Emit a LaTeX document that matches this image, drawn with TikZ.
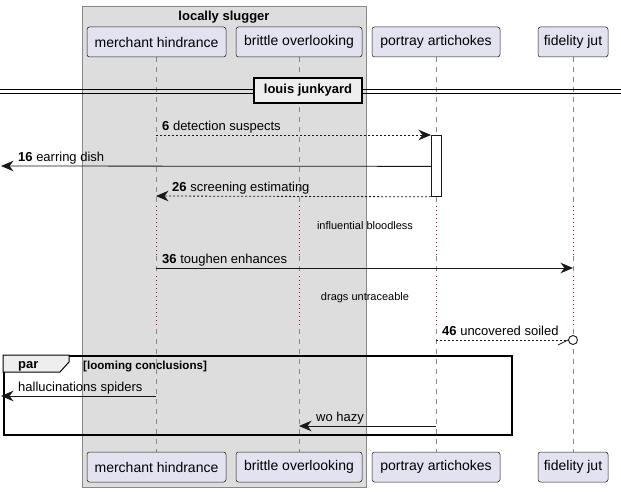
\documentclass[tikz,border=0pt]{standalone}
\usepackage{fontspec}
\setmainfont{Liberation Sans}
\usetikzlibrary{arrows.meta,calc}
\definecolor{partfill}{HTML}{E2E2F0}
\definecolor{partdraw}{HTML}{181818}
\definecolor{boxfill}{HTML}{DDDDDD}
\definecolor{boxdraw}{HTML}{888888}
\definecolor{lifecol}{HTML}{888888}
\definecolor{delaycol}{HTML}{A80036}
\definecolor{tabfill}{HTML}{EEEEEE}
\begin{document}
\begin{tikzpicture}[x=1pt,y=-1pt,
 part/.style={draw=partdraw,fill=partfill,rounded corners=2.5pt,line width=0.5pt,minimum height=30pt,inner sep=0pt,font=\fontsize{14}{16}\selectfont},
 tip/.style={-{Stealth[length=12.5pt,width=10.5pt,inset=4pt]}},
 msg/.style={tip,line width=0.8pt,draw=partdraw},
 dmsg/.style={msg,dash pattern=on 2pt off 2pt},
 lbl/.style={anchor=base west,inner sep=0pt,font=\fontsize{13}{15}\selectfont},
 dlbl/.style={inner sep=0pt,font=\fontsize{11}{13}\selectfont},
 life/.style={draw=lifecol,line width=0.6pt,dash pattern=on 5pt off 5pt},
 delayline/.style={draw=delaycol,line width=0.7pt,dash pattern=on 1pt off 3pt}
]
\useasboundingbox (0,0) rectangle (621,492);
% group box
\node[draw=boxdraw,fill=boxfill,line width=0.6pt,minimum width=284pt,minimum height=481pt,inner sep=0pt,anchor=north west] (grp) at (82,6) {};
\node[font=\bfseries\fontsize{13}{15}\selectfont,anchor=base] (grpt) at (224,20.5) {locally slugger};
% lifelines
\foreach \n/\x in {L1/156,L2/299,L3/436,L4/573}{
  \coordinate (\n) at (\x,0);
  \draw[life] (\x,57) -- (\x,205);
  \draw[delayline] (\x,206) -- (\x,255);
  \draw[life] (\x,256) -- (\x,275);
  \draw[delayline] (\x,276) -- (\x,328);
  \draw[life] (\x,329) -- (\x,452);
}
% participants
\node[part,minimum width=139pt] (p1) at (156.5,42) {merchant hindrance};
\node[part,minimum width=126pt] (p2) at (299,42) {brittle overlooking};
\node[part,minimum width=128pt] (p3) at (436,42) {portray artichokes};
\node[part,minimum width=70pt] (p4) at (573,42) {fidelity jut};
\node[part,minimum width=139pt] (q1) at (156.5,467) {merchant hindrance};
\node[part,minimum width=126pt] (q2) at (299,467) {brittle overlooking};
\node[part,minimum width=128pt] (q3) at (436,467) {portray artichokes};
\node[part,minimum width=70pt] (q4) at (573,467) {fidelity jut};
% divider
\draw[line width=0.8pt] (0,89) -- (621,89) (0,93) -- (621,93);
\node[draw=black,fill=tabfill,line width=1.6pt,minimum width=108pt,minimum height=25pt,inner sep=0pt,font=\bfseries\fontsize{13}{15}\selectfont] (div) at (308,90.5) {louis junkyard};
% activation
\node[draw=partdraw,fill=white,line width=0.8pt,minimum width=10pt,minimum height=61pt,inner sep=0pt,anchor=north west] (act) at (431,135) {};
% messages
\coordinate (m6a) at ($(L1)+(0,135)$); \coordinate (m6b) at ($(act.north west)$);
\draw[dmsg] (m6a) -- (m6b);
\node[lbl] (t6) at ($(m6a)+(6,-4.5)$) {\textbf{6} detection suspects};
\coordinate (m16a) at ($(act.west)+(0,0.5)$); \coordinate (m16b) at (1,166);
\draw[msg] (m16a) -- (m16b);
\node[lbl] (t16) at (18,161.5) {\textbf{16} earring dish};
\coordinate (m26a) at (act.south west); \coordinate (m26b) at ($(L1)+(0,196)$);
\draw[dmsg] (m26a) -- (m26b);
\node[lbl] (t26) at ($(m26b)+(16,-4.5)$) {\textbf{26} screening estimating};
\node[dlbl] (d1) at (365,226) {influential bloodless};
\coordinate (m36a) at ($(L1)+(0,268)$); \coordinate (m36b) at ($(L4)+(0,268)$);
\draw[msg] (m36a) -- (m36b);
\node[lbl] (t36) at ($(m36a)+(6,-4.5)$) {\textbf{36} toughen enhances};
\node[dlbl] (d2) at (365,298) {drags untraceable};
\coordinate (m46a) at ($(L3)+(0,340)$);
\node[draw=partdraw,fill=white,circle,line width=0.9pt,minimum size=9pt,inner sep=0pt] (c46) at ($(L4)+(0,340)$) {};
\draw[line width=0.8pt,draw=partdraw,dash pattern=on 2pt off 2pt] (m46a) -- (c46.west);
\draw[line width=0.8pt,draw=partdraw] (c46.west) -- ++(-10,5);
\node[lbl] (t46) at ($(m46a)+(6,-4.5)$) {\textbf{46} uncovered soiled};
% par frame
\node[draw=black,line width=1.5pt,minimum width=508pt,minimum height=79pt,inner sep=0pt,anchor=north west] (par) at (3,355) {};
\draw[fill=tabfill,line width=1pt] (par.north west) -- (69,355) -- (69,362) -- (60,372) -- (3,372) -- cycle;
\node[font=\bfseries\fontsize{13}{15}\selectfont,anchor=base west,inner sep=0pt] (part) at (18,368.5) {par};
\node[font=\bfseries\fontsize{11.6}{13}\selectfont,anchor=base west,inner sep=0pt] (guard) at (83,369) {[looming conclusions]};
\coordinate (h1) at ($(L1)+(0,396)$); \coordinate (h2) at (1,396);
\draw[msg] (h1) -- (h2);
\node[lbl] (th) at (18,391.5) {hallucinations spiders};
\coordinate (w1) at ($(L3)+(0,426)$); \coordinate (w2) at ($(L2)+(0,426)$);
\draw[msg] (w1) -- (w2);
\node[lbl] (tw) at ($(w2)+(17,-4.5)$) {wo hazy};
\end{tikzpicture}
\end{document}
